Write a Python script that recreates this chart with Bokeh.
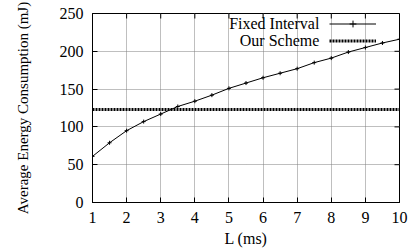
from math import pi
from bokeh.plotting import figure
from bokeh.models import FixedTicker, Legend, LegendItem, Label, Range1d
from bokeh.embed import file_html
from bokeh.resources import INLINE

# ---- data ----
L_ms = [1, 1.5, 2, 2.5, 3, 3.5, 4, 4.5, 5, 5.5, 6, 6.5, 7, 7.5, 8, 8.5, 9, 9.5, 10]
fixed_interval = [61, 79, 95, 107, 117, 127, 134, 142, 151, 158, 165, 171, 177, 185, 191, 199, 205, 211, 216]
our_scheme_L = [1, 10]
our_scheme = [123, 123]
x_ticks = [1, 2, 3, 4, 5, 6, 7, 8, 9, 10]
y_ticks = [0, 50, 100, 150, 200, 250]
series_names = ["Fixed Interval", "Our Scheme"]
x_label = "L (ms)"
y_label = "Average Energy Consumption (mJ)"
caption = "(b) Energy consumption of the two schemes"

FONT = "Liberation Serif"

p = figure(width=414, height=251, x_range=Range1d(1, 10), y_range=Range1d(0, 250),
           output_backend="svg", toolbar_location=None,
           min_border_left=92, min_border_right=15, min_border_top=13, min_border_bottom=49,
           background_fill_color="white", border_fill_color="white")
p.outline_line_color = "black"
p.outline_line_width = 1

# grid
for g, t in ((p.xgrid, x_ticks), (p.ygrid, y_ticks)):
    g.ticker = FixedTicker(ticks=t)
    g.grid_line_color = "#7f7f7f"
    g.grid_line_dash = "1 1"
    g.grid_line_width = 1

# axes
for ax, ticks in ((p.xaxis[0], x_ticks), (p.yaxis[0], y_ticks)):
    ax.ticker = FixedTicker(ticks=ticks)
    ax.axis_line_color = "black"
    ax.major_tick_in = 5
    ax.major_tick_out = 0
    ax.minor_tick_line_color = None
    ax.major_tick_line_color = "black"
    ax.major_label_text_font = FONT
    ax.major_label_text_font_size = "16px"
    ax.major_label_text_color = "black"
    ax.axis_label_text_font = FONT
    ax.axis_label_text_font_style = "normal"
    ax.axis_label_text_color = "black"

p.xaxis[0].major_label_standoff = 9
p.yaxis[0].major_label_standoff = 9
p.xaxis[0].axis_label = x_label
p.yaxis[0].axis_label = y_label
p.xaxis[0].axis_label_text_font_size = "16px"
p.yaxis[0].axis_label_text_font_size = "15px"
p.xaxis[0].axis_label_standoff = 4
p.yaxis[0].axis_label_standoff = 26

# mirrored inward ticks on the top and right edges (half of each dash is clipped by the frame)
p.scatter(x_ticks, [y_ticks[-1]] * len(x_ticks), marker="dash", angle=pi / 2, size=10,
          line_color="black", line_width=1)
p.scatter([x_ticks[-1]] * len(y_ticks), y_ticks, marker="dash", size=10,
          line_color="black", line_width=1)

# series
r_fixed_line = p.line(L_ms, fixed_interval, line_color="black", line_width=1)
r_fixed_pts = p.scatter(L_ms, fixed_interval, marker="cross", size=4, line_color="black", line_width=1)
r_ours = p.line(our_scheme_L, our_scheme, line_color="black", line_width=3, line_dash="2 1")

# legend: gnuplot style (label text right-aligned, sample on its right)
legend = Legend(items=[LegendItem(label=" ", renderers=[r_fixed_line, r_fixed_pts]),
                       LegendItem(label=" ", renderers=[r_ours])],
                location=(237, 153), orientation="vertical",
                glyph_width=47, glyph_height=17, spacing=0, padding=0, margin=0,
                label_standoff=0, label_width=0, label_height=17,
                label_text_font_size="1px", label_text_color=None,
                border_line_alpha=0, background_fill_alpha=0)
p.add_layout(legend, "center")

for name, ly in zip(series_names, [236.5, 214]):
    p.add_layout(Label(x=7.65, y=ly, text=name, text_align="right", text_baseline="middle",
                       text_font=FONT, text_font_size="16px", text_color="black"))

# figure caption, cut by the bottom edge as in the reference
p.add_layout(Label(x=-1.11, y=-76.5, text=caption, text_align="left", text_baseline="alphabetic",
                   text_font=FONT, text_font_size="22.5px", text_color="black"))

open("out.html", "w").write(file_html(p, INLINE))
